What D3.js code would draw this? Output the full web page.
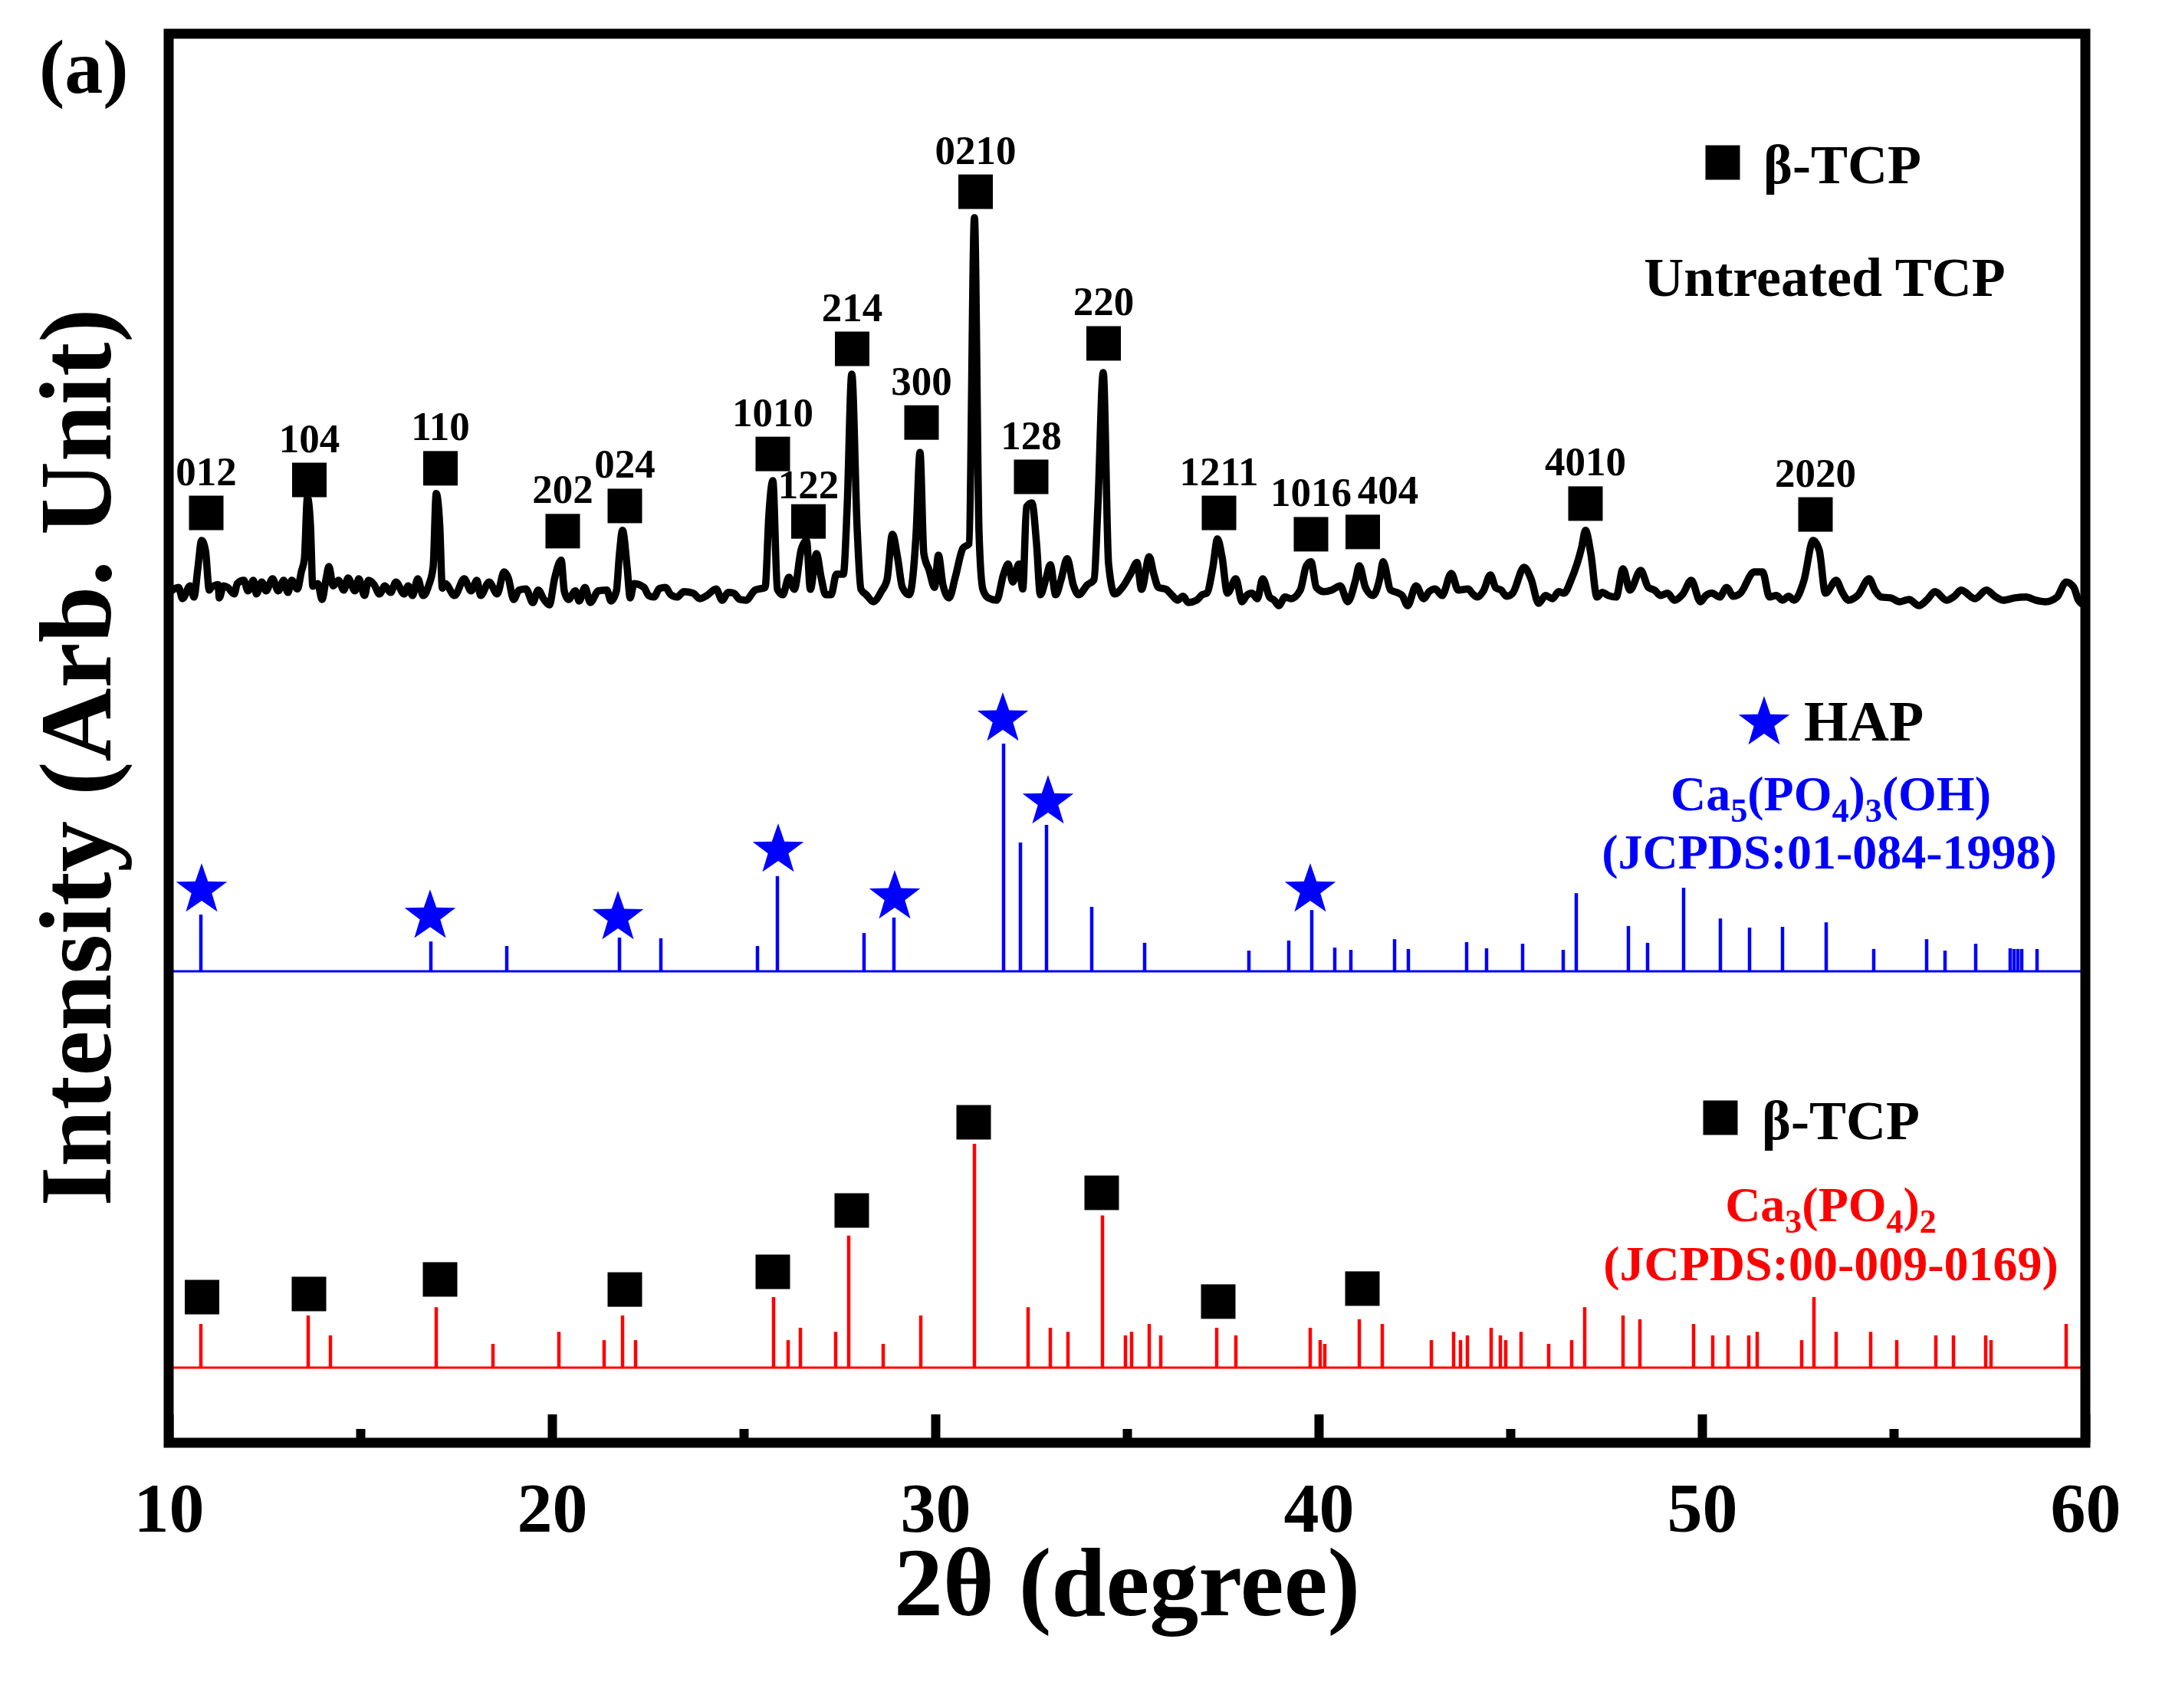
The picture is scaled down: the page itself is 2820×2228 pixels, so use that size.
<!DOCTYPE html>
<html>
<head>
<meta charset="utf-8">
<script src="https://cdn.jsdelivr.net/npm/d3@7"></script>
<style>
  body { margin: 0; background: #fff; }
  svg { display: block; }
  text { font-family: "Times New Roman", "Liberation Serif", serif; font-weight: bold; }
</style>
</head>
<body>
<div id="chart"></div>
<script>
// untreated TCP scan, [2theta, intensity %]
const untreatedScan = [
  [10.0, 3.2], [10.26, 4.7], [10.36, 1.8], [10.56, 5.1], [10.66, 2.2], [10.76, 9.5],
  [10.86, 16.8], [10.96, 14.2], [11.06, 4.0], [11.11, 4.7], [11.29, 5.4], [11.32, 2.0],
  [11.43, 5.1], [11.54, 4.7], [11.71, 3.0], [11.79, 5.7], [11.96, 6.5], [12.07, 3.8],
  [12.21, 6.5], [12.29, 3.0], [12.43, 6.1], [12.54, 3.8], [12.71, 6.9], [12.86, 3.8],
  [13.0, 6.5], [13.11, 3.4], [13.21, 6.5], [13.36, 4.3], [13.46, 8.7], [13.54, 12.0],
  [13.62, 27.9], [13.7, 20.5], [13.76, 5.0], [13.89, 5.7], [14.0, 1.6], [14.11, 7.1],
  [14.18, 10.1], [14.29, 5.1], [14.43, 6.5], [14.57, 4.0], [14.68, 7.1], [14.86, 3.8],
  [14.96, 6.9], [15.11, 2.6], [15.21, 6.5], [15.36, 5.4], [15.5, 3.0], [15.64, 5.1],
  [15.79, 3.4], [15.93, 6.1], [16.14, 3.0], [16.25, 5.1], [16.36, 2.6], [16.5, 6.9],
  [16.64, 2.6], [16.79, 5.4], [16.9, 10.0], [16.98, 28.9], [17.07, 21.0], [17.14, 4.5],
  [17.21, 5.7], [17.46, 2.6], [17.71, 6.9], [17.89, 3.8], [18.04, 6.5], [18.14, 2.6],
  [18.36, 6.1], [18.57, 3.0], [18.75, 8.7], [18.86, 7.1], [19.0, 1.6], [19.14, 4.0],
  [19.32, 4.3], [19.5, 0.8], [19.64, 4.0], [19.79, 1.6], [19.93, 0.2], [20.07, 7.1],
  [20.24, 11.7], [20.32, 3.8], [20.43, 1.6], [20.61, 3.8], [20.71, 1.2], [20.86, 4.7],
  [21.0, 0.8], [21.21, 3.8], [21.43, 4.0], [21.54, 1.2], [21.68, 3.8], [21.76, 13.4],
  [21.84, 19.4], [21.96, 9.9], [22.04, 2.0], [22.14, 5.7], [22.4, 4.7], [22.52, 2.6],
  [22.66, 2.2], [22.8, 4.4], [22.96, 4.7], [23.1, 2.8], [23.26, 2.2], [23.44, 3.6],
  [23.68, 3.2], [23.86, 1.8], [24.04, 2.6], [24.28, 4.3], [24.44, 1.4], [24.6, 3.4],
  [24.74, 3.2], [24.9, 1.6], [25.06, 1.4], [25.3, 4.0], [25.56, 4.7], [25.66, 23.7],
  [25.76, 32.2], [25.88, 4.2], [26.02, 2.8], [26.18, 7.3], [26.32, 4.2], [26.5, 14.4],
  [26.64, 16.8], [26.74, 4.2], [26.9, 13.4], [27.02, 7.3], [27.14, 2.8], [27.28, 2.8],
  [27.42, 8.1], [27.6, 8.1], [27.7, 25.5], [27.82, 59.7], [27.96, 20.0], [28.06, 4.2],
  [28.2, 2.8], [28.38, 1.0], [28.6, 3.8], [28.74, 6.7], [28.88, 18.4], [29.02, 12.1],
  [29.14, 4.7], [29.32, 2.8], [29.5, 18.8], [29.6, 39.5], [29.7, 13.4], [29.84, 9.1],
  [29.98, 4.7], [30.08, 13.0], [30.2, 5.3], [30.36, 2.0], [30.52, 7.3], [30.72, 14.8],
  [30.88, 16.0], [31.02, 100], [31.14, 18.8], [31.24, 4.2], [31.38, 2.0], [31.6, 1.4],
  [31.78, 8.1], [31.9, 10.7], [32.02, 6.1], [32.18, 10.7], [32.28, 4.3], [32.38, 25.5],
  [32.52, 26.5], [32.64, 16.0], [32.74, 2.8], [32.88, 6.7], [33.0, 10.5], [33.14, 2.8],
  [33.28, 6.7], [33.44, 12.1], [33.6, 5.3], [33.74, 2.8], [33.96, 5.3], [34.14, 6.7],
  [34.24, 25.5], [34.38, 60.1], [34.52, 10.7], [34.68, 3.0], [34.88, 4.7], [35.1, 8.3],
  [35.26, 11.1], [35.38, 4.2], [35.58, 12.6], [35.7, 8.1], [35.82, 4.7], [36.02, 4.2],
  [36.18, 2.6], [36.32, 1.4], [36.46, 2.4], [36.6, 0.8], [36.82, 1.4], [36.96, 2.8],
  [37.08, 3.2], [37.24, 9.9], [37.36, 17.2], [37.48, 12.5], [37.62, 3.2], [37.84, 6.9],
  [38.0, 1.0], [38.12, 2.6], [38.26, 3.2], [38.4, 1.8], [38.54, 6.9], [38.72, 2.2],
  [38.84, 1.4], [38.96, 0.0], [39.12, 2.2], [39.28, 1.8], [39.52, 4.0], [39.68, 10.3],
  [39.8, 11.3], [39.94, 4.7], [40.14, 3.6], [40.34, 4.0], [40.56, 5.1], [40.76, 1.0],
  [40.96, 6.5], [41.06, 10.3], [41.22, 4.7], [41.42, 2.6], [41.6, 7.3], [41.68, 11.3],
  [41.88, 4.0], [42.04, 3.4], [42.18, 2.6], [42.32, 0.0], [42.54, 5.1], [42.74, 1.8],
  [42.88, 3.6], [43.04, 4.3], [43.22, 2.6], [43.46, 8.3], [43.64, 4.0], [43.9, 4.3],
  [44.02, 3.0], [44.14, 2.2], [44.3, 3.8], [44.48, 7.9], [44.62, 4.6], [44.76, 4.0],
  [44.9, 2.4], [45.06, 3.2], [45.36, 9.9], [45.54, 6.9], [45.74, 0.6], [45.92, 2.6],
  [46.1, 1.8], [46.26, 3.6], [46.4, 3.2], [46.58, 6.5], [46.86, 15.0], [46.96, 19.4],
  [47.1, 13.4], [47.26, 2.2], [47.4, 3.4], [47.56, 2.6], [47.76, 2.2], [47.94, 9.5],
  [48.12, 4.0], [48.4, 9.1], [48.6, 4.7], [48.76, 4.0], [48.92, 2.6], [49.1, 3.2],
  [49.28, 1.4], [49.5, 3.0], [49.72, 6.5], [49.96, 1.0], [50.1, 2.6], [50.26, 3.2],
  [50.46, 2.2], [50.64, 4.7], [50.82, 2.4], [51.0, 3.2], [51.36, 8.7], [51.58, 8.7],
  [51.76, 2.2], [51.94, 2.6], [52.1, 1.4], [52.26, 2.4], [52.4, 1.4], [52.66, 6.5],
  [52.9, 16.8], [53.06, 14.2], [53.22, 3.2], [53.5, 6.5], [53.66, 3.4], [53.82, 1.4],
  [54.06, 2.6], [54.36, 6.9], [54.52, 3.8], [54.68, 2.2], [54.92, 2.0], [55.16, 1.0],
  [55.4, 1.6], [55.66, 0.0], [55.86, 1.4], [56.08, 3.6], [56.38, 1.4], [56.58, 2.4],
  [56.76, 4.0], [57.12, 1.8], [57.42, 4.0], [57.64, 2.4], [57.86, 1.4], [58.16, 2.0],
  [58.46, 2.2], [58.7, 1.4], [58.96, 1.0], [59.26, 2.2], [59.5, 6.1], [59.7, 4.7],
  [59.82, 1.4], [60.0, 0.0]
];

// beta-TCP reflections marked on the scan: [hkl, 2theta, marker level %]
const scanMarkers = [
  ["012", 10.98, 23.9], ["104", 13.67, 32.4], ["110", 17.09, 35.4], ["202", 20.28, 19.2],
  ["024", 21.9, 25.7], ["1010", 25.76, 39.1], ["122", 26.69, 21.7], ["214", 27.83, 66.2],
  ["300", 29.64, 47.2], ["0210", 31.05, 106.7], ["128", 32.5, 33.2], ["220", 34.39, 67.6],
  ["1211", 37.4, 23.9], ["1016", 39.8, 18.4], ["404", 41.15, 19.0], ["4010", 46.96, 26.3],
  ["2020", 52.96, 23.5]
];

// HAP reference JCPDS 01-084-1998: [2theta, relative intensity]
const hapPeaks = [
  [10.84, 24.9], [16.84, 13.1], [18.82, 11.1], [21.76, 14.8], [22.84, 14.5], [25.36, 11.1],
  [25.88, 41.8], [28.14, 16.8], [28.92, 23.6], [31.78, 100], [32.22, 56.6], [32.9, 64.3],
  [34.08, 28.3], [35.46, 12.5], [38.18, 9.1], [39.22, 13.5], [39.82, 26.9], [40.42, 10.4],
  [40.84, 9.4], [41.98, 14.1], [42.34, 9.8], [43.86, 12.8], [44.38, 10.1], [45.32, 12.1],
  [46.38, 9.4], [46.72, 34.3], [48.08, 19.9], [48.58, 12.5], [49.52, 36.7], [50.48, 23.2],
  [51.24, 19.2], [52.1, 19.5], [53.24, 21.5], [54.48, 9.8], [55.86, 14.1], [56.34, 9.1],
  [57.14, 12.1], [58.04, 10.1], [58.14, 9.8], [58.24, 9.8], [58.34, 9.8], [58.74, 9.8],
  [59.94, 12.8]
];

// HAP star markers: [2theta, level]
const hapStars = [
  [10.86, 35.7], [16.82, 24.2], [21.72, 23.6], [25.9, 53.2], [28.94, 32.7], [31.76, 110.8],
  [32.94, 74.4], [39.78, 35.7]
];

// beta-TCP reference JCPDS 00-009-0169: [2theta, relative intensity]
const tcpPeaks = [
  [10.84, 19.5], [13.64, 23.3], [14.22, 14.4], [16.98, 27], [18.46, 10.6], [20.18, 16],
  [21.36, 12.3], [21.84, 23.3], [22.18, 12.3], [25.78, 31.5], [26.16, 12.3], [26.48, 17.8],
  [27.4, 16], [27.74, 59], [28.64, 10.6], [29.62, 23.3], [31.02, 100], [32.42, 27],
  [33.0, 17.8], [33.46, 16], [34.36, 68], [34.96, 14.4], [35.12, 16], [35.58, 19.5],
  [35.88, 14.4], [37.34, 17.8], [37.84, 14.4], [39.78, 17.8], [40.04, 12.3], [40.16, 10.6],
  [41.06, 21.6], [41.66, 19.5], [42.94, 12.3], [43.52, 16], [43.7, 12.3], [43.88, 14.4],
  [44.5, 17.8], [44.74, 14.4], [44.88, 12.3], [45.28, 16], [46.0, 10.6], [46.6, 12.3],
  [46.94, 27], [47.94, 23.3], [48.38, 21.6], [49.78, 19.5], [50.28, 14.4], [50.68, 14.4],
  [51.22, 14.4], [51.44, 16], [52.6, 12.3], [52.92, 31.5], [53.5, 16], [54.4, 16],
  [55.08, 12.3], [56.1, 14.4], [56.56, 14.4], [57.4, 14.4], [57.54, 12.3], [59.5, 19.5]
];

// square markers on the reference: [2theta, level]
const tcpSquares = [
  [10.87, 31.5], [13.66, 32.9], [17.08, 39.4], [21.9, 34.9], [25.76, 42.8], [27.82, 70.2],
  [31.0, 109.6], [34.34, 78.1], [37.38, 29.5], [41.14, 35.3]
];

const majorTicks = [10, 20, 30, 40, 50, 60];
const minorTicks = [15, 25, 35, 45, 55];

const W = 2820, H = 2228;
const frame = { left: 220, right: 2720, top: 44, bottom: 1882 };
const sq = 45; // square marker side

const svg = d3.select("#chart").append("svg")
  .attr("width", W).attr("height", H)
  .attr("viewBox", `0 0 ${W} ${H}`);

const x = d3.scaleLinear().domain([10, 60]).range([frame.left, frame.right]);
// one intensity scale per stacked pattern
const yScan = d3.scaleLinear().domain([0, 100]).range([790, 284]);
const yHap = d3.scaleLinear().domain([0, 100]).range([1267, 970]);
const yTcp = d3.scaleLinear().domain([0, 100]).range([1784, 1492]);

const starPath = (R, r) => {
  const pts = d3.range(10).map((i) => {
    const a = -Math.PI / 2 + (i * Math.PI) / 5;
    const rad = i % 2 ? r : R;
    return [rad * Math.cos(a), rad * Math.sin(a)];
  });
  return d3.line()(pts) + "Z";
};
const star = starPath(35, 14);

// reference patterns
const sticks = (data, yS, color) => {
  const g = svg.append("g");
  g.append("line")
    .attr("x1", frame.left).attr("x2", frame.right)
    .attr("y1", yS(0)).attr("y2", yS(0))
    .attr("stroke", color).attr("stroke-width", 3);
  g.selectAll("line.stick").data(data).join("line")
    .attr("class", "stick")
    .attr("x1", (d) => x(d[0])).attr("x2", (d) => x(d[0]))
    .attr("y1", yS(0)).attr("y2", (d) => yS(d[1]))
    .attr("stroke", color).attr("stroke-width", 4.5);
  return g;
};

sticks(hapPeaks, yHap, "#0000ff");
sticks(tcpPeaks, yTcp, "#ff0000");

svg.append("g").selectAll("path").data(hapStars).join("path")
  .attr("d", star)
  .attr("transform", (d) => `translate(${x(d[0])},${yHap(d[1])})`)
  .attr("fill", "#0000ff");

svg.append("g").selectAll("rect").data(tcpSquares).join("rect")
  .attr("x", (d) => x(d[0]) - sq / 2)
  .attr("y", (d) => yTcp(d[1]) - sq / 2)
  .attr("width", sq).attr("height", sq)
  .attr("fill", "#000");

// measured scan
svg.append("path")
  .datum(untreatedScan)
  .attr("fill", "none")
  .attr("stroke", "#000")
  .attr("stroke-width", 9.5)
  .attr("stroke-linejoin", "round")
  .attr("stroke-linecap", "round")
  .attr("d", d3.line().x((d) => x(d[0])).y((d) => yScan(d[1])).curve(d3.curveMonotoneX));

const labelNudge = { "122": [0, 6], "404": [33, 0] };

const mk = svg.append("g").selectAll("g").data(scanMarkers).join("g")
  .attr("transform", (d) => `translate(${x(d[1])},${yScan(d[2])})`);
mk.append("rect")
  .attr("x", -sq / 2).attr("y", -sq / 2)
  .attr("width", sq).attr("height", sq)
  .attr("fill", "#000");
mk.append("text")
  .attr("x", (d) => (labelNudge[d[0]] || [0, 0])[0])
  .attr("y", (d) => -sq / 2 - 14 + (labelNudge[d[0]] || [0, 0])[1])
  .attr("text-anchor", "middle")
  .attr("font-size", 53)
  .text((d) => d[0]);

// frame and bottom axis
svg.append("rect")
  .attr("x", frame.left).attr("y", frame.top)
  .attr("width", frame.right - frame.left)
  .attr("height", frame.bottom - frame.top)
  .attr("fill", "none")
  .attr("stroke", "#000")
  .attr("stroke-width", 13);

const axis = svg.append("g")
  .attr("transform", `translate(0,${frame.bottom})`)
  .call(d3.axisBottom(x).tickValues(majorTicks).tickSize(-37).tickPadding(51).tickFormat(d3.format("d")));
axis.select(".domain").remove();
axis.selectAll(".tick line").attr("stroke-width", 12);
axis.selectAll(".tick text")
  .attr("font-size", 92)
  .attr("font-family", null)
  .attr("fill", "#000");

const minor = svg.append("g")
  .attr("transform", `translate(0,${frame.bottom})`)
  .call(d3.axisBottom(x).tickValues(minorTicks).tickSize(-18).tickFormat(""));
minor.select(".domain").remove();
minor.selectAll(".tick line").attr("stroke-width", 12);

svg.append("text")
  .attr("x", (frame.left + frame.right) / 2).attr("y", 2107)
  .attr("text-anchor", "middle")
  .attr("font-size", 128)
  .text("2θ (degree)");

svg.append("text")
  .attr("transform", "translate(144,988) rotate(-90)")
  .attr("text-anchor", "middle")
  .attr("font-size", 133)
  .text("Intensity (Arb. Unit)");

svg.append("text")
  .attr("x", 51).attr("y", 121)
  .attr("font-size", 100)
  .text("(a)");

// legends and phase notes
svg.append("rect")
  .attr("x", 2247 - sq / 2).attr("y", 212 - sq / 2)
  .attr("width", sq).attr("height", sq);
svg.append("text").attr("x", 2300).attr("y", 239).attr("font-size", 72).text("β-TCP");
svg.append("text").attr("x", 2380).attr("y", 386).attr("text-anchor", "middle")
  .attr("font-size", 72).text("Untreated TCP");

svg.append("path").attr("d", star).attr("transform", "translate(2301,943)").attr("fill", "#0000ff");
svg.append("text").attr("x", 2353).attr("y", 966).attr("font-size", 74).text("HAP");

// chemical formula with subscripts
const formula = (parts, cx, y, color) => {
  const t = svg.append("text")
    .attr("x", cx).attr("y", y)
    .attr("text-anchor", "middle")
    .attr("font-size", 64)
    .attr("fill", color);
  let shift = 0;
  parts.forEach(([s, sub]) => {
    const want = sub ? 15 : 0;
    t.append("tspan")
      .attr("font-size", sub ? 44 : 64)
      .attr("dy", want - shift)
      .text(s);
    shift = want;
  });
};

formula([["Ca"], ["5", 1], ["(PO"], ["4", 1], [")"], ["3", 1], ["(OH)"]], 2388, 1057, "#0000ff");
svg.append("text").attr("x", 2386).attr("y", 1133).attr("text-anchor", "middle")
  .attr("font-size", 64).attr("fill", "#0000ff").text("(JCPDS:01-084-1998)");

svg.append("rect")
  .attr("x", 2244 - sq / 2).attr("y", 1458 - sq / 2)
  .attr("width", sq).attr("height", sq);
svg.append("text").attr("x", 2298).attr("y", 1486).attr("font-size", 72).text("β-TCP");

formula([["Ca"], ["3", 1], ["(PO"], ["4", 1], [")"], ["2", 1]], 2388, 1593, "#ff0000");
svg.append("text").attr("x", 2388).attr("y", 1670).attr("text-anchor", "middle")
  .attr("font-size", 64).attr("fill", "#ff0000").text("(JCPDS:00-009-0169)");
</script>
</body>
</html>
